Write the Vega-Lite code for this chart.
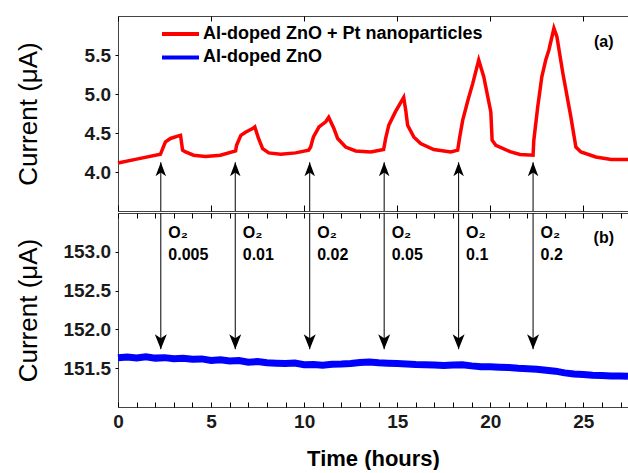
{
  "$schema": "https://vega.github.io/schema/vega-lite/v6.json",
  "padding": {"left": 14, "top": 15, "right": 0, "bottom": 0},
  "background": "white",
  "config": {
    "font": "Liberation Sans",
    "view": {"stroke": "#444", "strokeWidth": 1},
    "axis": {"grid": false, "domain": false, "tickColor": "#000", "tickWidth": 1, "labelFont": "Liberation Sans", "labelFontWeight": "bold", "labelFontSize": 19, "labelColor": "#1a1a1a", "titleFont": "Liberation Sans", "titleColor": "#000"},
    "concat": {"spacing": 0}
  },
  "datasets": {
    "sensor": [
      {"t": 0, "current": 4.116, "series": "Al-doped ZnO + Pt nanoparticles"},
      {"t": 1, "current": 4.165, "series": "Al-doped ZnO + Pt nanoparticles"},
      {"t": 2.28, "current": 4.227, "series": "Al-doped ZnO + Pt nanoparticles"},
      {"t": 2.4, "current": 4.3, "series": "Al-doped ZnO + Pt nanoparticles"},
      {"t": 2.55, "current": 4.386, "series": "Al-doped ZnO + Pt nanoparticles"},
      {"t": 2.82, "current": 4.43, "series": "Al-doped ZnO + Pt nanoparticles"},
      {"t": 3.25, "current": 4.463, "series": "Al-doped ZnO + Pt nanoparticles"},
      {"t": 3.36, "current": 4.47, "series": "Al-doped ZnO + Pt nanoparticles"},
      {"t": 3.47, "current": 4.28, "series": "Al-doped ZnO + Pt nanoparticles"},
      {"t": 3.63, "current": 4.257, "series": "Al-doped ZnO + Pt nanoparticles"},
      {"t": 4.06, "current": 4.215, "series": "Al-doped ZnO + Pt nanoparticles"},
      {"t": 4.7, "current": 4.2, "series": "Al-doped ZnO + Pt nanoparticles"},
      {"t": 5.5, "current": 4.215, "series": "Al-doped ZnO + Pt nanoparticles"},
      {"t": 6.32, "current": 4.27, "series": "Al-doped ZnO + Pt nanoparticles"},
      {"t": 6.37, "current": 4.343, "series": "Al-doped ZnO + Pt nanoparticles"},
      {"t": 6.6, "current": 4.47, "series": "Al-doped ZnO + Pt nanoparticles"},
      {"t": 6.85, "current": 4.51, "series": "Al-doped ZnO + Pt nanoparticles"},
      {"t": 7.23, "current": 4.557, "series": "Al-doped ZnO + Pt nanoparticles"},
      {"t": 7.35, "current": 4.578, "series": "Al-doped ZnO + Pt nanoparticles"},
      {"t": 7.55, "current": 4.43, "series": "Al-doped ZnO + Pt nanoparticles"},
      {"t": 7.77, "current": 4.3, "series": "Al-doped ZnO + Pt nanoparticles"},
      {"t": 8.1, "current": 4.245, "series": "Al-doped ZnO + Pt nanoparticles"},
      {"t": 8.74, "current": 4.227, "series": "Al-doped ZnO + Pt nanoparticles"},
      {"t": 9.54, "current": 4.245, "series": "Al-doped ZnO + Pt nanoparticles"},
      {"t": 10.24, "current": 4.28, "series": "Al-doped ZnO + Pt nanoparticles"},
      {"t": 10.35, "current": 4.32, "series": "Al-doped ZnO + Pt nanoparticles"},
      {"t": 10.5, "current": 4.45, "series": "Al-doped ZnO + Pt nanoparticles"},
      {"t": 10.8, "current": 4.578, "series": "Al-doped ZnO + Pt nanoparticles"},
      {"t": 11.16, "current": 4.643, "series": "Al-doped ZnO + Pt nanoparticles"},
      {"t": 11.32, "current": 4.7, "series": "Al-doped ZnO + Pt nanoparticles"},
      {"t": 11.6, "current": 4.557, "series": "Al-doped ZnO + Pt nanoparticles"},
      {"t": 11.8, "current": 4.43, "series": "Al-doped ZnO + Pt nanoparticles"},
      {"t": 12.23, "current": 4.32, "series": "Al-doped ZnO + Pt nanoparticles"},
      {"t": 12.77, "current": 4.27, "series": "Al-doped ZnO + Pt nanoparticles"},
      {"t": 13.58, "current": 4.257, "series": "Al-doped ZnO + Pt nanoparticles"},
      {"t": 14.27, "current": 4.288, "series": "Al-doped ZnO + Pt nanoparticles"},
      {"t": 14.38, "current": 4.43, "series": "Al-doped ZnO + Pt nanoparticles"},
      {"t": 14.55, "current": 4.6, "series": "Al-doped ZnO + Pt nanoparticles"},
      {"t": 14.9, "current": 4.77, "series": "Al-doped ZnO + Pt nanoparticles"},
      {"t": 15.35, "current": 4.956, "series": "Al-doped ZnO + Pt nanoparticles"},
      {"t": 15.46, "current": 4.79, "series": "Al-doped ZnO + Pt nanoparticles"},
      {"t": 15.56, "current": 4.6, "series": "Al-doped ZnO + Pt nanoparticles"},
      {"t": 15.89, "current": 4.45, "series": "Al-doped ZnO + Pt nanoparticles"},
      {"t": 16.26, "current": 4.365, "series": "Al-doped ZnO + Pt nanoparticles"},
      {"t": 16.96, "current": 4.288, "series": "Al-doped ZnO + Pt nanoparticles"},
      {"t": 17.88, "current": 4.257, "series": "Al-doped ZnO + Pt nanoparticles"},
      {"t": 18.25, "current": 4.28, "series": "Al-doped ZnO + Pt nanoparticles"},
      {"t": 18.36, "current": 4.45, "series": "Al-doped ZnO + Pt nanoparticles"},
      {"t": 18.52, "current": 4.665, "series": "Al-doped ZnO + Pt nanoparticles"},
      {"t": 18.8, "current": 4.92, "series": "Al-doped ZnO + Pt nanoparticles"},
      {"t": 19.06, "current": 5.136, "series": "Al-doped ZnO + Pt nanoparticles"},
      {"t": 19.38, "current": 5.436, "series": "Al-doped ZnO + Pt nanoparticles"},
      {"t": 19.65, "current": 5.221, "series": "Al-doped ZnO + Pt nanoparticles"},
      {"t": 20.03, "current": 4.77, "series": "Al-doped ZnO + Pt nanoparticles"},
      {"t": 20.1, "current": 4.407, "series": "Al-doped ZnO + Pt nanoparticles"},
      {"t": 20.3, "current": 4.343, "series": "Al-doped ZnO + Pt nanoparticles"},
      {"t": 21.1, "current": 4.257, "series": "Al-doped ZnO + Pt nanoparticles"},
      {"t": 21.6, "current": 4.224, "series": "Al-doped ZnO + Pt nanoparticles"},
      {"t": 22.3, "current": 4.215, "series": "Al-doped ZnO + Pt nanoparticles"},
      {"t": 22.34, "current": 4.407, "series": "Al-doped ZnO + Pt nanoparticles"},
      {"t": 22.55, "current": 4.835, "series": "Al-doped ZnO + Pt nanoparticles"},
      {"t": 22.77, "current": 5.221, "series": "Al-doped ZnO + Pt nanoparticles"},
      {"t": 22.98, "current": 5.436, "series": "Al-doped ZnO + Pt nanoparticles"},
      {"t": 23.15, "current": 5.564, "series": "Al-doped ZnO + Pt nanoparticles"},
      {"t": 23.42, "current": 5.843, "series": "Al-doped ZnO + Pt nanoparticles"},
      {"t": 23.58, "current": 5.735, "series": "Al-doped ZnO + Pt nanoparticles"},
      {"t": 23.9, "current": 5.265, "series": "Al-doped ZnO + Pt nanoparticles"},
      {"t": 24.33, "current": 4.707, "series": "Al-doped ZnO + Pt nanoparticles"},
      {"t": 24.6, "current": 4.32, "series": "Al-doped ZnO + Pt nanoparticles"},
      {"t": 24.87, "current": 4.257, "series": "Al-doped ZnO + Pt nanoparticles"},
      {"t": 25.67, "current": 4.193, "series": "Al-doped ZnO + Pt nanoparticles"},
      {"t": 26.5, "current": 4.16, "series": "Al-doped ZnO + Pt nanoparticles"},
      {"t": 27.4, "current": 4.16, "series": "Al-doped ZnO + Pt nanoparticles"}
    ],
    "reference": [
      {"t": 0, "current": 151.635, "series": "Al-doped ZnO"},
      {"t": 0.5, "current": 151.645, "series": "Al-doped ZnO"},
      {"t": 1, "current": 151.632, "series": "Al-doped ZnO"},
      {"t": 1.5, "current": 151.648, "series": "Al-doped ZnO"},
      {"t": 2, "current": 151.63, "series": "Al-doped ZnO"},
      {"t": 2.5, "current": 151.636, "series": "Al-doped ZnO"},
      {"t": 3, "current": 151.622, "series": "Al-doped ZnO"},
      {"t": 3.5, "current": 151.628, "series": "Al-doped ZnO"},
      {"t": 4, "current": 151.615, "series": "Al-doped ZnO"},
      {"t": 4.5, "current": 151.62, "series": "Al-doped ZnO"},
      {"t": 5, "current": 151.6, "series": "Al-doped ZnO"},
      {"t": 5.5, "current": 151.61, "series": "Al-doped ZnO"},
      {"t": 6, "current": 151.592, "series": "Al-doped ZnO"},
      {"t": 6.5, "current": 151.6, "series": "Al-doped ZnO"},
      {"t": 7, "current": 151.578, "series": "Al-doped ZnO"},
      {"t": 7.5, "current": 151.585, "series": "Al-doped ZnO"},
      {"t": 8, "current": 151.57, "series": "Al-doped ZnO"},
      {"t": 8.5, "current": 151.565, "series": "Al-doped ZnO"},
      {"t": 9, "current": 151.56, "series": "Al-doped ZnO"},
      {"t": 9.5, "current": 151.566, "series": "Al-doped ZnO"},
      {"t": 10, "current": 151.545, "series": "Al-doped ZnO"},
      {"t": 10.5, "current": 151.548, "series": "Al-doped ZnO"},
      {"t": 11, "current": 151.538, "series": "Al-doped ZnO"},
      {"t": 11.5, "current": 151.55, "series": "Al-doped ZnO"},
      {"t": 12, "current": 151.553, "series": "Al-doped ZnO"},
      {"t": 12.5, "current": 151.56, "series": "Al-doped ZnO"},
      {"t": 13, "current": 151.572, "series": "Al-doped ZnO"},
      {"t": 13.5, "current": 151.58, "series": "Al-doped ZnO"},
      {"t": 14, "current": 151.57, "series": "Al-doped ZnO"},
      {"t": 14.5, "current": 151.565, "series": "Al-doped ZnO"},
      {"t": 15, "current": 151.56, "series": "Al-doped ZnO"},
      {"t": 15.5, "current": 151.555, "series": "Al-doped ZnO"},
      {"t": 16, "current": 151.548, "series": "Al-doped ZnO"},
      {"t": 16.5, "current": 151.545, "series": "Al-doped ZnO"},
      {"t": 17, "current": 151.54, "series": "Al-doped ZnO"},
      {"t": 17.5, "current": 151.535, "series": "Al-doped ZnO"},
      {"t": 18, "current": 151.54, "series": "Al-doped ZnO"},
      {"t": 18.5, "current": 151.545, "series": "Al-doped ZnO"},
      {"t": 19, "current": 151.53, "series": "Al-doped ZnO"},
      {"t": 19.5, "current": 151.52, "series": "Al-doped ZnO"},
      {"t": 20, "current": 151.518, "series": "Al-doped ZnO"},
      {"t": 20.5, "current": 151.512, "series": "Al-doped ZnO"},
      {"t": 21, "current": 151.508, "series": "Al-doped ZnO"},
      {"t": 21.5, "current": 151.498, "series": "Al-doped ZnO"},
      {"t": 22, "current": 151.492, "series": "Al-doped ZnO"},
      {"t": 22.5, "current": 151.486, "series": "Al-doped ZnO"},
      {"t": 23, "current": 151.475, "series": "Al-doped ZnO"},
      {"t": 23.5, "current": 151.462, "series": "Al-doped ZnO"},
      {"t": 24, "current": 151.44, "series": "Al-doped ZnO"},
      {"t": 24.5, "current": 151.425, "series": "Al-doped ZnO"},
      {"t": 25, "current": 151.418, "series": "Al-doped ZnO"},
      {"t": 25.5, "current": 151.41, "series": "Al-doped ZnO"},
      {"t": 26, "current": 151.405, "series": "Al-doped ZnO"},
      {"t": 26.5, "current": 151.4, "series": "Al-doped ZnO"},
      {"t": 27, "current": 151.398, "series": "Al-doped ZnO"},
      {"t": 27.4, "current": 151.395, "series": "Al-doped ZnO"}
    ],
    "pulses": [
      {"t": 2.3, "conc": "0.005"},
      {"t": 6.3, "conc": "0.01"},
      {"t": 10.3, "conc": "0.02"},
      {"t": 14.3, "conc": "0.05"},
      {"t": 18.3, "conc": "0.1"},
      {"t": 22.3, "conc": "0.2"}
    ]
  },
  "resolve": {"legend": {"color": "independent"}},
  "vconcat": [
    {
      "width": 510,
      "height": 195,
      "layer": [
        {
          "data": {"name": "sensor"},
          "mark": {"type": "line", "strokeWidth": 3.5},
          "encoding": {
            "x": {"field": "t", "type": "quantitative", "scale": {"domain": [0, 27.4], "nice": false, "zero": false},
              "axis": {"orient": "bottom", "values": [0, 5, 10, 15, 20, 25], "labels": false, "tickSize": -6, "title": null}},
            "y": {"field": "current", "type": "quantitative", "scale": {"domain": [3.5, 6.0], "nice": false, "zero": false},
              "axis": {"orient": "left", "values": [4, 4.5, 5, 5.5], "format": ".1f", "tickSize": 3, "labelPadding": 4.5, "title": "Current (μA)", "titleFontSize": 26, "titleFontWeight": "normal", "titlePadding": 10, "minExtent": 67, "maxExtent": 67}},
            "color": {"field": "series", "type": "nominal",
              "scale": {"domain": ["Al-doped ZnO + Pt nanoparticles", "Al-doped ZnO"], "range": ["#ff0000", "#0000ff"]},
              "legend": {"orient": "none", "legendX": 42, "legendY": 8, "title": null, "symbolType": "stroke", "symbolSize": 1369, "symbolStrokeWidth": 4, "clipHeight": 20, "rowPadding": 3.4, "labelFontSize": 18, "labelFontWeight": "bold", "labelColor": "#000", "labelLimit": 500, "labelOffset": 2, "padding": 0}}
          }
        },
        {
          "data": {"name": "pulses"},
          "mark": {"type": "rule", "color": "#000", "strokeWidth": 1},
          "encoding": {
            "x": {"field": "t", "type": "quantitative", "axis": {"orient": "top", "values": [0, 5, 10, 15, 20, 25], "labels": false, "tickSize": -5, "title": null}},
            "y": {"datum": 3.5, "type": "quantitative"},
            "y2": {"datum": 4.125}
          }
        },
        {
          "data": {"name": "pulses"},
          "mark": {"type": "point", "shape": "M0,0 L0.75,2 L0,1.45 L-0.75,2 Z", "size": 196, "filled": true, "color": "#000", "opacity": 1, "strokeWidth": 0},
          "encoding": {
            "x": {"field": "t", "type": "quantitative", "axis": null},
            "y": {"datum": 4.125, "type": "quantitative"}
          }
        },
        {
          "data": {"values": [{"t": 26.1, "label": "(a)"}]},
          "mark": {"type": "text", "fontWeight": "bold", "fontSize": 16, "align": "center", "baseline": "middle", "color": "#000"},
          "encoding": {
            "x": {"field": "t", "type": "quantitative", "axis": null},
            "y": {"datum": 5.67, "type": "quantitative"},
            "text": {"field": "label"}
          }
        }
      ]
    },
    {
      "width": 510,
      "height": 194,
      "layer": [
        {
          "data": {"name": "reference"},
          "mark": {"type": "line", "strokeWidth": 7},
          "encoding": {
            "x": {"field": "t", "type": "quantitative", "scale": {"domain": [0, 27.4], "nice": false, "zero": false},
              "axis": {"orient": "bottom", "values": [0, 1, 2, 3, 4, 5, 6, 7, 8, 9, 10, 11, 12, 13, 14, 15, 16, 17, 18, 19, 20, 21, 22, 23, 24, 25, 26, 27], "labelExpr": "datum.value % 5 === 0 ? datum.label : ''", "tickSize": -5, "labelPadding": 10, "labelFlush": false, "labelOverlap": false, "title": "Time (hours)", "titleFontSize": 22, "titleFontWeight": "bold", "titlePadding": 17}},
            "y": {"field": "current", "type": "quantitative", "scale": {"domain": [151.0, 153.5], "nice": false, "zero": false},
              "axis": {"orient": "left", "values": [151.5, 152, 152.5, 153], "format": ".1f", "tickSize": 3, "labelPadding": 4.5, "title": "Current (μA)", "titleFontSize": 26, "titleFontWeight": "normal", "titlePadding": 10, "minExtent": 67, "maxExtent": 67}},
            "color": {"field": "series", "type": "nominal",
              "scale": {"domain": ["Al-doped ZnO + Pt nanoparticles", "Al-doped ZnO"], "range": ["#ff0000", "#0000ff"]},
              "legend": null}
          }
        },
        {
          "data": {"name": "pulses"},
          "mark": {"type": "rule", "color": "#000", "strokeWidth": 1},
          "encoding": {
            "x": {"field": "t", "type": "quantitative", "axis": {"orient": "top", "values": [0, 1, 2, 3, 4, 5, 6, 7, 8, 9, 10, 11, 12, 13, 14, 15, 16, 17, 18, 19, 20, 21, 22, 23, 24, 25, 26, 27], "labels": false, "tickSize": -5, "title": null}},
            "y": {"datum": 153.5, "type": "quantitative"},
            "y2": {"datum": 151.745}
          }
        },
        {
          "data": {"name": "pulses"},
          "mark": {"type": "point", "shape": "M0,0 L0.8,-2 L0,-1.45 L-0.8,-2 Z", "size": 225, "filled": true, "color": "#000", "opacity": 1, "strokeWidth": 0},
          "encoding": {
            "x": {"field": "t", "type": "quantitative", "axis": null},
            "y": {"datum": 151.745, "type": "quantitative"}
          }
        },
        {
          "data": {"name": "pulses"},
          "mark": {"type": "text", "fontWeight": "bold", "fontSize": 16, "align": "left", "baseline": "alphabetic", "dx": 7.5, "color": "#000"},
          "encoding": {
            "x": {"field": "t", "type": "quantitative", "axis": null},
            "y": {"datum": 153.184, "type": "quantitative"},
            "text": {"value": "O₂"}
          }
        },
        {
          "data": {"name": "pulses"},
          "mark": {"type": "text", "fontWeight": "bold", "fontSize": 16, "align": "left", "baseline": "alphabetic", "dx": 7.5, "color": "#000"},
          "encoding": {
            "x": {"field": "t", "type": "quantitative", "axis": null},
            "y": {"datum": 152.897, "type": "quantitative"},
            "text": {"field": "conc"}
          }
        },
        {
          "data": {"values": [{"t": 26.1, "label": "(b)"}]},
          "mark": {"type": "text", "fontWeight": "bold", "fontSize": 16, "align": "center", "baseline": "middle", "color": "#000"},
          "encoding": {
            "x": {"field": "t", "type": "quantitative", "axis": null},
            "y": {"datum": 153.184, "type": "quantitative"},
            "text": {"field": "label"}
          }
        }
      ]
    }
  ]
}
